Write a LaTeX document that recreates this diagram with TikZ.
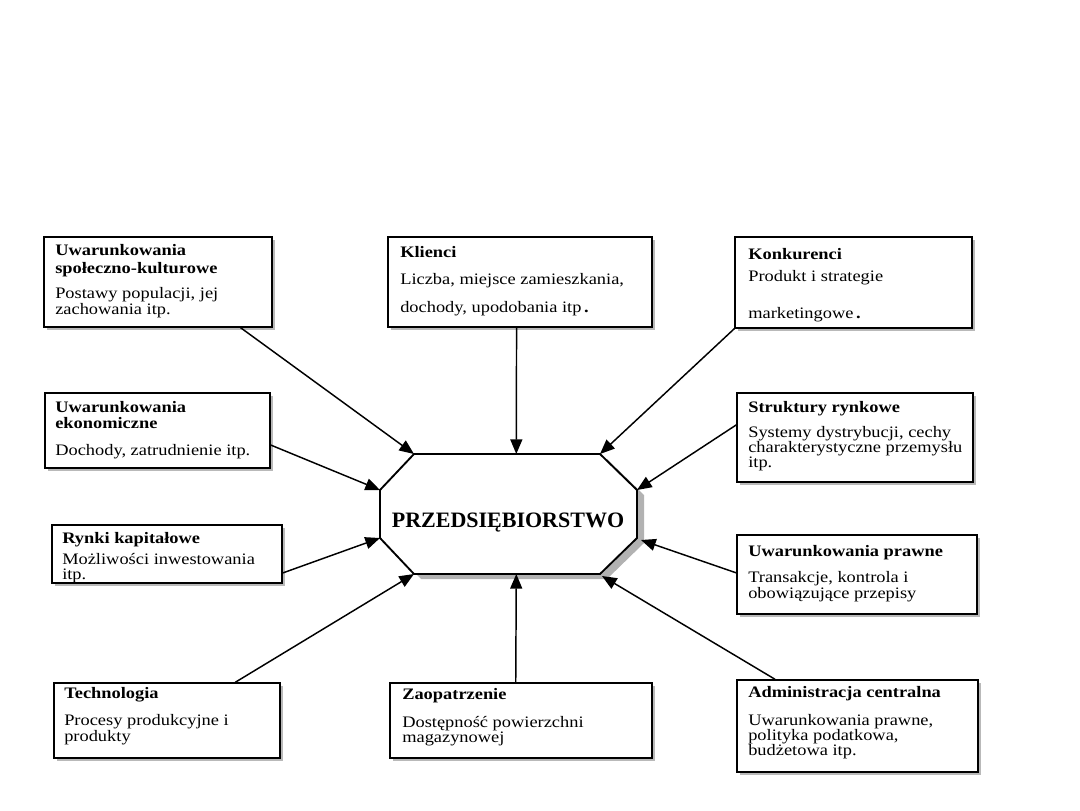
\documentclass[tikz,border=0pt]{standalone}
\usepackage{fontspec}
\setmainfont{Liberation Serif}[FakeStretch=1.15]
\newfontfamily\titlefont{Liberation Serif}
\usetikzlibrary{arrows.meta,fit,shadows,calc}
\begin{document}
\begin{tikzpicture}[x=0.75pt,y=-0.75pt,
  bx/.style={draw, line width=1pt, inner sep=0pt, fill=white,
    drop shadow={shadow xshift=2pt, shadow yshift=-2pt, fill=gray!55, opacity=1}},
  hd/.style={anchor=base west, inner sep=0pt, font=\fontsize{12}{14}\selectfont\bfseries},
  tx/.style={anchor=base west, inner sep=0pt, font=\fontsize{12}{14}\selectfont},
  arr/.style={line width=1.1pt, -{Triangle[length=11pt,width=9pt]}}]
\useasboundingbox (0,0) rectangle (1080,810);

% boxes
\node[bx, fit={(44,237) (272,327)}] (b1) {};
\node[bx, fit={(388,237) (652,327)}] (b2) {};
\node[bx, fit={(735,237) (972,328)}] (b3) {};
\node[bx, fit={(45,393) (270,468)}] (b4) {};
\node[bx, fit={(737,393) (973,482)}] (b5) {};
\node[bx, fit={(52,525) (282,583)}] (b6) {};
\node[bx, fit={(737,535) (977,614)}] (b7) {};
\node[bx, fit={(54,683) (280,758)}] (b8) {};
\node[bx, fit={(390,683) (652,758)}] (b9) {};
\node[bx, fit={(737,680) (978,772)}] (b10) {};

% texts
\node[hd] (t1a) at (55,255) {Uwarunkowania};
\node[hd] (t1b) at (55,273) {społeczno-kulturowe};
\node[tx] (t1c) at (55,298) {Postawy populacji, jej};
\node[tx] (t1d) at (55,314) {zachowania itp.};

\node[hd] (t2a) at (400,257) {Klienci};
\node[tx] (t2b) at (400,284) {Liczba, miejsce zamieszkania,};
\node[tx] (t2c) at (400,312) {dochody, upodobania itp\,\textbf{.}};

\node[hd] (t3a) at (748,259) {Konkurenci};
\node[tx] (t3b) at (748,281) {Produkt i strategie};
\node[tx] (t3c) at (748,318) {marketingowe\,\textbf{.}};

\node[hd] (t4a) at (55,412) {Uwarunkowania};
\node[hd] (t4b) at (55,428) {ekonomiczne};
\node[tx] (t4c) at (55,455) {Dochody, zatrudnienie itp.};

\node[hd] (t5a) at (748,412) {Struktury rynkowe};
\node[tx] (t5b) at (748,437) {Systemy dystrybucji, cechy};
\node[tx] (t5c) at (748,452) {charakterystyczne przemysłu};
\node[tx] (t5d) at (748,467) {itp.};

\node[hd] (t6a) at (62,543) {Rynki kapitałowe};
\node[tx] (t6b) at (62,564) {Możliwości inwestowania};
\node[tx] (t6c) at (62,579) {itp.};

\node[hd] (t7a) at (748,556) {Uwarunkowania prawne};
\node[tx] (t7b) at (748,582) {Transakcje, kontrola i};
\node[tx] (t7c) at (748,598) {obowiązujące przepisy};

\node[hd] (t8a) at (64,698) {Technologia};
\node[tx] (t8b) at (64,725) {Procesy produkcyjne i};
\node[tx] (t8c) at (64,741) {produkty};

\node[hd] (t9a) at (402,699) {Zaopatrzenie};
\node[tx] (t9b) at (402,727) {Dostępność powierzchni};
\node[tx] (t9c) at (402,742) {magazynowej};

\node[hd] (t10a) at (748,697) {Administracja centralna};
\node[tx] (t10b) at (748,725) {Uwarunkowania prawne,};
\node[tx] (t10c) at (748,740) {polityka podatkowa,};
\node[tx] (t10d) at (748,755) {budżetowa itp.};

% central octagon
\coordinate (o1) at (414,454);
\coordinate (o2) at (600,454);
\coordinate (o3) at (637,490);
\coordinate (o4) at (637,538);
\coordinate (o5) at (600,574);
\coordinate (o6) at (414,574);
\coordinate (o7) at (380,538);
\coordinate (o8) at (380,490);
\fill[gray!60] ([shift={(7,5)}]o1) -- ([shift={(7,5)}]o2) -- ([shift={(7,5)}]o3) -- ([shift={(7,5)}]o4)
  -- ([shift={(7,5)}]o5) -- ([shift={(7,5)}]o6) -- ([shift={(7,5)}]o7) -- ([shift={(7,5)}]o8) -- cycle;
\draw[line width=1.4pt, fill=white] (o1) -- (o2) -- (o3) -- (o4) -- (o5) -- (o6) -- (o7) -- (o8) -- cycle;
\node[anchor=base, inner sep=0pt, font=\titlefont\fontsize{16.5}{19}\selectfont\bfseries] (firm) at (508,527) {PRZEDSIĘBIORSTWO};

% arrows
\draw[arr] ($(b1.south west)!0.86!(b1.south east)$) -- (o1);
\draw[arr] ($(b2.south west)!0.487!(b2.south east)$) -- ($(o1)!0.55!(o2)$);
\draw[arr] (b3.south west) -- (o2);
\draw[arr] ($(b4.north east)!0.69!(b4.south east)$) -- (o8);
\draw[arr] ($(b5.north west)!0.36!(b5.south west)$) -- (o3);
\draw[arr] ($(b6.north east)!0.82!(b6.south east)$) -- (o7);
\draw[arr] ($(b7.north west)!0.48!(b7.south west)$) -- ($(o4)+(4,2)$);
\draw[arr] ($(b8.north west)!0.80!(b8.north east)$) -- (o6);
\draw[arr] ($(b9.north west)!0.48!(b9.north east)$) -- ($(o6)!0.55!(o5)$);
\draw[arr] ($(b10.north west)!0.16!(b10.north east)$) -- ($(o5)+(2,2)$);
\end{tikzpicture}
\end{document}
